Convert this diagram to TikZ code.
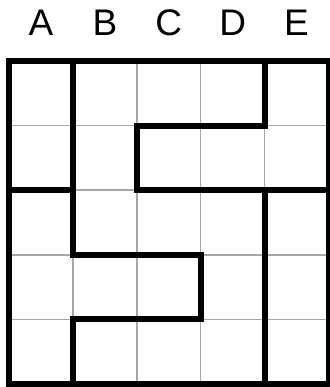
\documentclass[tikz,border=0pt]{standalone}
\usepackage{fontspec}
\setmainfont{Liberation Sans}

\begin{document}
\begin{tikzpicture}[
    x=1pt, y=-1pt,
    gridline/.style={draw=gray!70, line width=1.5pt},
    wall/.style={draw=black, line width=6pt, line cap=rect, line join=miter},
    collbl/.style={font=\fontsize{37}{37}\selectfont, inner sep=0pt},
  ]
  \useasboundingbox (0,0) rectangle (329,387);
  \begin{scope}[shift={(9,61)}, x=63.9pt, y=-64.6pt]
    % thin cell lines
    \foreach \k in {1,...,4} {
      \draw[gridline] (\k,0) -- (\k,5);
      \draw[gridline] (0,\k) -- (5,\k);
    }

    % column letters
    \foreach \l [count=\i from 0] in {A,B,C,D,E}
      \node[collbl] (col\l) at (\i+0.5,-0.59) {\l};

    % region walls
    \draw[wall] (0,0) rectangle (5,5);
    \draw[wall] (1,0) -- (1,3) -- (3,3) -- (3,4) -- (1,4) -- (1,5);
    \draw[wall] (0,2) -- (1,2);
    \draw[wall] (4,0) -- (4,1) -- (2,1) -- (2,2) -- (5,2);
    \draw[wall] (4,2) -- (4,5);
  \end{scope}
\end{tikzpicture}
\end{document}
